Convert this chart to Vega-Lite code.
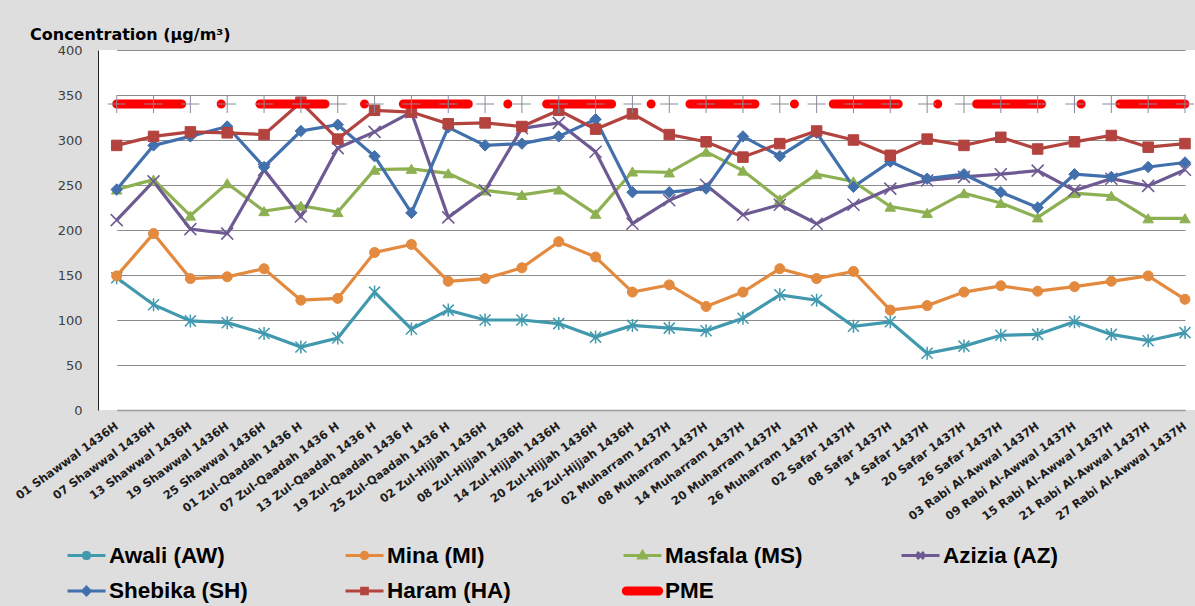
{
  "$schema": "https://vega.github.io/schema/vega-lite/v6.json",
  "autosize": {"type": "none"},
  "width": 1097,
  "height": 360,
  "padding": {"left": 98, "top": 50, "right": 0, "bottom": 196},
  "background": "#dedede",
  "title": {
    "text": "Concentration (µg/m³)",
    "anchor": "start",
    "frame": "group",
    "dx": -68,
    "dy": 22,
    "offset": 10,
    "baseline": "alphabetic",
    "font": "DejaVu Sans",
    "fontSize": 16,
    "fontWeight": "bold",
    "color": "#000000"
  },
  "config": {"view": {"fill": "#ffffff", "stroke": null}},
  "data": {
    "values": [
      {"n": 0, "date": "01 Shawwal 1436H", "Awali (AW)": 147, "Mina (MI)": 149, "Masfala (MS)": 245, "Azizia (AZ)": 211, "Shebika (SH)": 245, "Haram (HA)": 294, "PME": 340},
      {"n": 1, "date": "07 Shawwal 1436H", "Awali (AW)": 117, "Mina (MI)": 196, "Masfala (MS)": 256, "Azizia (AZ)": 254, "Shebika (SH)": 294, "Haram (HA)": 304, "PME": 340},
      {"n": 2, "date": "13 Shawwal 1436H", "Awali (AW)": 99, "Mina (MI)": 146, "Masfala (MS)": 216, "Azizia (AZ)": 201, "Shebika (SH)": 304, "Haram (HA)": 309, "PME": 340},
      {"n": 3, "date": "19 Shawwal 1436H", "Awali (AW)": 97, "Mina (MI)": 148, "Masfala (MS)": 252, "Azizia (AZ)": 196, "Shebika (SH)": 315, "Haram (HA)": 308, "PME": 340},
      {"n": 4, "date": "25 Shawwal 1436H", "Awali (AW)": 85, "Mina (MI)": 157, "Masfala (MS)": 221, "Azizia (AZ)": 267, "Shebika (SH)": 270, "Haram (HA)": 306, "PME": 340},
      {"n": 5, "date": "01 Zul-Qaadah 1436 H", "Awali (AW)": 70, "Mina (MI)": 122, "Masfala (MS)": 227, "Azizia (AZ)": 215, "Shebika (SH)": 310, "Haram (HA)": 342, "PME": 340},
      {"n": 6, "date": "07 Zul-Qaadah 1436 H", "Awali (AW)": 80, "Mina (MI)": 124, "Masfala (MS)": 220, "Azizia (AZ)": 291, "Shebika (SH)": 317, "Haram (HA)": 301, "PME": 340},
      {"n": 7, "date": "13 Zul-Qaadah 1436 H", "Awali (AW)": 131, "Mina (MI)": 175, "Masfala (MS)": 267, "Azizia (AZ)": 309, "Shebika (SH)": 282, "Haram (HA)": 333, "PME": 340},
      {"n": 8, "date": "19 Zul-Qaadah 1436 H", "Awali (AW)": 90, "Mina (MI)": 184, "Masfala (MS)": 268, "Azizia (AZ)": 331, "Shebika (SH)": 219, "Haram (HA)": 331, "PME": 340},
      {"n": 9, "date": "25 Zul-Qaadah 1436 H", "Awali (AW)": 111, "Mina (MI)": 143, "Masfala (MS)": 263, "Azizia (AZ)": 214, "Shebika (SH)": 314, "Haram (HA)": 318, "PME": 340},
      {"n": 10, "date": "02 Zul-Hijjah 1436H", "Awali (AW)": 100, "Mina (MI)": 146, "Masfala (MS)": 244, "Azizia (AZ)": 244, "Shebika (SH)": 294, "Haram (HA)": 319, "PME": 340},
      {"n": 11, "date": "08 Zul-Hijjah 1436H", "Awali (AW)": 100, "Mina (MI)": 158, "Masfala (MS)": 239, "Azizia (AZ)": 313, "Shebika (SH)": 296, "Haram (HA)": 315, "PME": 340},
      {"n": 12, "date": "14 Zul-Hijjah 1436H", "Awali (AW)": 96, "Mina (MI)": 187, "Masfala (MS)": 245, "Azizia (AZ)": 319, "Shebika (SH)": 304, "Haram (HA)": 333, "PME": 340},
      {"n": 13, "date": "20 Zul-Hijjah 1436H", "Awali (AW)": 81, "Mina (MI)": 170, "Masfala (MS)": 218, "Azizia (AZ)": 287, "Shebika (SH)": 323, "Haram (HA)": 312, "PME": 340},
      {"n": 14, "date": "26 Zul-Hijjah 1436H", "Awali (AW)": 94, "Mina (MI)": 131, "Masfala (MS)": 265, "Azizia (AZ)": 207, "Shebika (SH)": 242, "Haram (HA)": 329, "PME": 340},
      {"n": 15, "date": "02 Muharram 1437H", "Awali (AW)": 91, "Mina (MI)": 139, "Masfala (MS)": 264, "Azizia (AZ)": 233, "Shebika (SH)": 242, "Haram (HA)": 306, "PME": 340},
      {"n": 16, "date": "08 Muharram 1437H", "Awali (AW)": 88, "Mina (MI)": 115, "Masfala (MS)": 287, "Azizia (AZ)": 250, "Shebika (SH)": 246, "Haram (HA)": 298, "PME": 340},
      {"n": 17, "date": "14 Muharram 1437H", "Awali (AW)": 102, "Mina (MI)": 131, "Masfala (MS)": 266, "Azizia (AZ)": 217, "Shebika (SH)": 304, "Haram (HA)": 281, "PME": 340},
      {"n": 18, "date": "20 Muharram 1437H", "Awali (AW)": 128, "Mina (MI)": 157, "Masfala (MS)": 234, "Azizia (AZ)": 228, "Shebika (SH)": 282, "Haram (HA)": 296, "PME": 340},
      {"n": 19, "date": "26 Muharram 1437H", "Awali (AW)": 122, "Mina (MI)": 146, "Masfala (MS)": 262, "Azizia (AZ)": 207, "Shebika (SH)": 308, "Haram (HA)": 310, "PME": 340},
      {"n": 20, "date": "02 Safar 1437H", "Awali (AW)": 93, "Mina (MI)": 154, "Masfala (MS)": 254, "Azizia (AZ)": 228, "Shebika (SH)": 248, "Haram (HA)": 300, "PME": 340},
      {"n": 21, "date": "08 Safar 1437H", "Awali (AW)": 98, "Mina (MI)": 111, "Masfala (MS)": 226, "Azizia (AZ)": 246, "Shebika (SH)": 276, "Haram (HA)": 283, "PME": 340},
      {"n": 22, "date": "14 Safar 1437H", "Awali (AW)": 63, "Mina (MI)": 116, "Masfala (MS)": 219, "Azizia (AZ)": 255, "Shebika (SH)": 257, "Haram (HA)": 301, "PME": 340},
      {"n": 23, "date": "20 Safar 1437H", "Awali (AW)": 71, "Mina (MI)": 131, "Masfala (MS)": 241, "Azizia (AZ)": 259, "Shebika (SH)": 262, "Haram (HA)": 294, "PME": 340},
      {"n": 24, "date": "26 Safar 1437H", "Awali (AW)": 83, "Mina (MI)": 138, "Masfala (MS)": 230, "Azizia (AZ)": 262, "Shebika (SH)": 242, "Haram (HA)": 303, "PME": 340},
      {"n": 25, "date": "03 Rabi Al-Awwal 1437H", "Awali (AW)": 84, "Mina (MI)": 132, "Masfala (MS)": 214, "Azizia (AZ)": 266, "Shebika (SH)": 225, "Haram (HA)": 290, "PME": 340},
      {"n": 26, "date": "09 Rabi Al-Awwal 1437H", "Awali (AW)": 98, "Mina (MI)": 137, "Masfala (MS)": 241, "Azizia (AZ)": 244, "Shebika (SH)": 262, "Haram (HA)": 298, "PME": 340},
      {"n": 27, "date": "15 Rabi Al-Awwal 1437H", "Awali (AW)": 84, "Mina (MI)": 143, "Masfala (MS)": 238, "Azizia (AZ)": 257, "Shebika (SH)": 259, "Haram (HA)": 305, "PME": 340},
      {"n": 28, "date": "21 Rabi Al-Awwal 1437H", "Awali (AW)": 77, "Mina (MI)": 149, "Masfala (MS)": 213, "Azizia (AZ)": 249, "Shebika (SH)": 270, "Haram (HA)": 292, "PME": 340},
      {"n": 29, "date": "27 Rabi Al-Awwal 1437H", "Awali (AW)": 86, "Mina (MI)": 123, "Masfala (MS)": 213, "Azizia (AZ)": 267, "Shebika (SH)": 275, "Haram (HA)": 296, "PME": 340}
    ]
  },
  "transform": [
    {"fold": ["Awali (AW)", "Mina (MI)", "Masfala (MS)", "Azizia (AZ)", "Shebika (SH)", "Haram (HA)", "PME"], "as": ["key", "value"]}
  ],
  "encoding": {
    "x": {
      "field": "date",
      "type": "ordinal",
      "sort": {"field": "n", "op": "min"},
      "scale": {"type": "point", "range": [18.7, 1087], "padding": 0},
      "axis": {
        "title": null,
        "ticks": false,
        "grid": false,
        "domain": true,
        "domainColor": "#9a9a9a",
        "domainWidth": 1.5,
        "labelAngle": -36,
        "labelAlign": "right",
        "labelBaseline": "middle",
        "labelPadding": 15,
        "labelOverlap": false,
        "labelLimit": 300,
        "labelFont": "DejaVu Sans",
        "labelFontSize": 11.5,
        "labelFontWeight": "bold",
        "labelColor": "#1e1e1e"
      }
    },
    "y": {
      "field": "value",
      "type": "quantitative",
      "scale": {"domain": [0, 400], "nice": false},
      "axis": {
        "title": null,
        "values": [0, 50, 100, 150, 200, 250, 300, 350, 400],
        "ticks": false,
        "grid": true,
        "gridColor": "#8c8c8c",
        "gridWidth": 1,
        "domainColor": "#202020",
        "domainWidth": 1,
        "labelPadding": 16,
        "labelFont": "DejaVu Sans",
        "labelFontSize": 13,
        "labelColor": "#404040"
      }
    }
  },
  "layer": [
    {
      "transform": [{"filter": "datum.key !== 'PME'"}],
      "mark": {"type": "line", "strokeWidth": 3.2},
      "encoding": {
        "color": {
          "field": "key",
          "type": "nominal",
          "scale": {
            "domain": ["Awali (AW)", "Mina (MI)", "Masfala (MS)", "Azizia (AZ)", "Shebika (SH)", "Haram (HA)"],
            "range": ["#4199ae", "#e38a3f", "#8db152", "#6e5a92", "#4170ac", "#b3433f"]
          },
          "legend": null
        }
      }
    },
    {
      "transform": [{"filter": "datum.key === 'Awali (AW)'"}],
      "mark": {"type": "point", "shape": "M-1.1,-1.1L1.1,1.1M-1.1,1.1L1.1,-1.1M0,-1.3V1.3", "size": 100, "filled": false, "color": "#4199ae", "strokeWidth": 1.5, "opacity": 1},
      "encoding": {}
    },
    {
      "transform": [{"filter": "datum.key === 'Mina (MI)'"}],
      "mark": {"type": "point", "shape": "circle", "size": 100, "filled": true, "color": "#e38a3f", "stroke": "#e38a3f", "strokeWidth": 1, "opacity": 1},
      "encoding": {}
    },
    {
      "transform": [{"filter": "datum.key === 'Masfala (MS)'"}],
      "mark": {"type": "point", "shape": "triangle-up", "size": 110, "filled": true, "color": "#8db152", "stroke": "#8db152", "strokeWidth": 1, "opacity": 1},
      "encoding": {}
    },
    {
      "transform": [{"filter": "datum.key === 'Azizia (AZ)'"}],
      "mark": {"type": "point", "shape": "M-1.2,-1.2L1.2,1.2M-1.2,1.2L1.2,-1.2", "size": 100, "filled": false, "color": "#6e5a92", "strokeWidth": 1.5, "opacity": 1},
      "encoding": {}
    },
    {
      "transform": [{"filter": "datum.key === 'Shebika (SH)'"}],
      "mark": {"type": "point", "shape": "diamond", "size": 130, "filled": true, "color": "#4170ac", "stroke": "#4170ac", "strokeWidth": 1, "opacity": 1},
      "encoding": {}
    },
    {
      "transform": [{"filter": "datum.key === 'Haram (HA)'"}],
      "mark": {"type": "point", "shape": "square", "size": 110, "filled": true, "color": "#b3433f", "stroke": "#b3433f", "strokeWidth": 1, "opacity": 1},
      "encoding": {}
    },
    {
      "transform": [{"filter": "datum.key === 'PME'"}],
      "mark": {"type": "line", "color": "#ff0000", "strokeWidth": 9, "strokeCap": "round", "strokeDash": [65, 39.5, 0.01, 38.8]},
      "encoding": {}
    },
    {
      "transform": [{"filter": "datum.key === 'PME'"}],
      "mark": {"type": "point", "shape": "M-1,0H1M0,-1V1", "size": 324, "filled": false, "opacity": 1, "color": "#8a8a9c", "strokeWidth": 1},
      "encoding": {}
    },
    {
      "transform": [{"filter": "datum.n === 0"}],
      "mark": {"type": "point", "filled": true, "opacity": 0},
      "encoding": {
        "fill": {
          "field": "key",
          "type": "nominal",
          "scale": {
            "domain": ["Awali (AW)", "Mina (MI)", "Masfala (MS)", "Azizia (AZ)", "Shebika (SH)", "Haram (HA)", "PME"],
            "range": ["#4199ae", "#e38a3f", "#8db152", "#6e5a92", "#4170ac", "#b3433f", "#ff0000"]
          },
          "legend": {
            "title": null,
            "orient": "none",
            "legendX": -32,
            "legendY": 485,
            "direction": "horizontal",
            "columns": 4,
            "columnPadding": 91,
            "rowPadding": 3.5,
            "gridAlign": "all",
            "symbolSize": 1444,
            "symbolStrokeWidth": 3,
            "symbolOpacity": 1,
            "labelFont": "Liberation Sans",
            "labelFontSize": 22.5,
            "labelFontWeight": "bold",
            "labelColor": "#000000",
            "labelOffset": 2,
            "labelLimit": 400
          }
        },
        "stroke": {
          "field": "key",
          "type": "nominal",
          "scale": {
            "domain": ["Awali (AW)", "Mina (MI)", "Masfala (MS)", "Azizia (AZ)", "Shebika (SH)", "Haram (HA)", "PME"],
            "range": ["#4199ae", "#e38a3f", "#8db152", "#6e5a92", "#4170ac", "#b3433f", "#ff0000"]
          },
          "legend": {
            "title": null,
            "orient": "none",
            "legendX": -32,
            "legendY": 485,
            "direction": "horizontal",
            "columns": 4,
            "columnPadding": 91,
            "rowPadding": 3.5,
            "gridAlign": "all",
            "symbolSize": 1444,
            "symbolStrokeWidth": 3,
            "symbolOpacity": 1,
            "labelFont": "Liberation Sans",
            "labelFontSize": 22.5,
            "labelFontWeight": "bold",
            "labelColor": "#000000",
            "labelOffset": 2,
            "labelLimit": 400
          }
        },
        "shape": {
          "field": "key",
          "type": "nominal",
          "scale": {
            "domain": ["Awali (AW)", "Mina (MI)", "Masfala (MS)", "Azizia (AZ)", "Shebika (SH)", "Haram (HA)", "PME"],
            "range": [
              "M-1,0H1M-0.18,-0.18L0.18,0.18M-0.18,0.18L0.18,-0.18M0,-0.24V0.24",
              "M-1,0H1M0.17,0A0.17,0.17,0,1,1,-0.17,0A0.17,0.17,0,1,1,0.17,0Z",
              "M-1,0H1M0,-0.2L0.19,0.13L-0.19,0.13Z",
              "M-1,0H1M-0.18,-0.18L0.18,0.18M-0.18,0.18L0.18,-0.18",
              "M-1,0H1M0,-0.2L0.2,0L0,0.2L-0.2,0Z",
              "M-1,0H1M-0.15,-0.15H0.15V0.15H-0.15Z",
              "M-0.85,-0.16H0.85A0.16,0.16,0,0,1,0.85,0.16H-0.85A0.16,0.16,0,0,1,-0.85,-0.16Z"
            ]
          },
          "legend": {
            "title": null,
            "orient": "none",
            "legendX": -32,
            "legendY": 485,
            "direction": "horizontal",
            "columns": 4,
            "columnPadding": 91,
            "rowPadding": 3.5,
            "gridAlign": "all",
            "symbolSize": 1444,
            "symbolStrokeWidth": 3,
            "symbolOpacity": 1,
            "labelFont": "Liberation Sans",
            "labelFontSize": 22.5,
            "labelFontWeight": "bold",
            "labelColor": "#000000",
            "labelOffset": 2,
            "labelLimit": 400
          }
        }
      }
    }
  ]
}
